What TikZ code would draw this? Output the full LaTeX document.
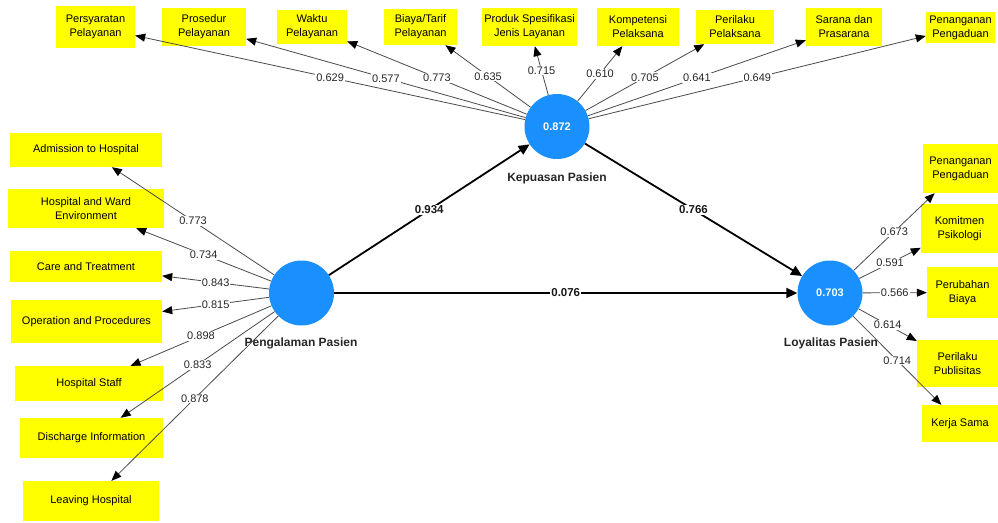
\documentclass[tikz,border=0pt]{standalone}
\usepackage{fontspec}
\setmainfont{Liberation Sans}
\usetikzlibrary{arrows.meta}
\definecolor{lvblue}{HTML}{1A90FF}
\definecolor{edgegray}{HTML}{4A4A4A}
\definecolor{boxyellow}{HTML}{FFFF00}
\begin{document}
\begin{tikzpicture}[x=1pt,y=-1pt,
  ind/.style={fill=boxyellow, inner sep=0pt, align=center, text=black,
    font=\fontsize{11}{14}\selectfont},
  lv/.style={circle, fill=lvblue, minimum size=65pt, inner sep=0pt, text=white,
    font=\bfseries\fontsize{11}{13}\selectfont},
  lvname/.style={font=\bfseries\fontsize{12}{14}\selectfont, text=black!85},
  ld/.style={draw=edgegray, line width=0.8pt,
    -{Triangle[length=10pt,width=8pt,color=black]}},
  ldlab/.style={fill=white, inner sep=1pt, text=black!85,
    font=\fontsize{11}{13}\selectfont},
  sp/.style={draw=black, line width=1.8pt,
    -{Triangle[length=11pt,width=10pt]}},
  splab/.style={fill=white, inner sep=1pt, text=black!90,
    font=\bfseries\fontsize{11.5}{13}\selectfont}
]
\useasboundingbox (0,0) rectangle (998,522);

% latent variables
\node[lv] (K) at (557,126.5) {0.872};
\node[lv] (P) at (301.5,293) {};
\node[lv] (L) at (830,293) {0.703};
\node[lvname] (Kn) at (557,178) {Kepuasan Pasien};
\node[lvname] (Pn) at (301,343) {Pengalaman Pasien};
\node[lvname] (Ln) at (831,343) {Loyalitas Pasien};

% top indicators
\node[ind, minimum width=79pt, minimum height=42pt] (t1) at (95.5,27) {Persyaratan\\Pelayanan};
\node[ind, minimum width=84pt, minimum height=38pt] (t2) at (204,27) {Prosedur\\Pelayanan};
\node[ind, minimum width=70pt, minimum height=34pt] (t3) at (312,27) {Waktu\\Pelayanan};
\node[ind, minimum width=73pt, minimum height=36pt] (t4) at (420.5,27) {Biaya/Tarif\\Pelayanan};
\node[ind, minimum width=95pt, minimum height=38pt] (t5) at (529.5,27) {Produk Spesifikasi\\Jenis Layanan};
\node[ind, minimum width=82pt, minimum height=38pt] (t6) at (638,27) {Kompetensi\\Pelaksana};
\node[ind, minimum width=78pt, minimum height=34pt] (t7) at (735,27) {Perilaku\\Pelaksana};
\node[ind, minimum width=76pt, minimum height=38pt] (t8) at (844,27) {Sarana dan\\Prasarana};
\node[ind, minimum width=69pt, minimum height=31pt] (t9) at (960.5,27.5) {Penanganan\\Pengaduan};

% left indicators
\node[ind, minimum width=152pt, minimum height=34pt] (l1) at (86,150) {Admission to Hospital};
\node[ind, minimum width=156pt, minimum height=39pt] (l2) at (86,208.5) {Hospital and Ward\\Environment};
\node[ind, minimum width=152pt, minimum height=31pt] (l3) at (86,266.5) {Care and Treatment};
\node[ind, minimum width=151pt, minimum height=43pt] (l4) at (86.5,321.5) {Operation and Procedures};
\node[ind, minimum width=148pt, minimum height=35pt] (l5) at (89,383.5) {Hospital Staff};
\node[ind, minimum width=143pt, minimum height=40pt] (l6) at (91.5,438) {Discharge Information};
\node[ind, minimum width=136pt, minimum height=40pt] (l7) at (91,501) {Leaving Hospital};

% right indicators
\node[ind, minimum width=75pt, minimum height=49pt] (r1) at (960.5,168.5) {Penanganan\\Pengaduan};
\node[ind, minimum width=77pt, minimum height=49pt] (r2) at (959.5,228.5) {Komitmen\\Psikologi};
\node[ind, minimum width=71pt, minimum height=51pt] (r3) at (962.5,292.5) {Perubahan\\Biaya};
\node[ind, minimum width=81pt, minimum height=47pt] (r4) at (957.5,363.5) {Perilaku\\Publisitas};
\node[ind, minimum width=76pt, minimum height=37pt] (r5) at (960,423.5) {Kerja Sama};

% top loadings
\draw[ld] (K) -- node[ldlab] {0.629} (t1);
\draw[ld] (K) -- node[ldlab] {0.577} (t2);
\draw[ld] (K) -- node[ldlab] {0.773} (t3);
\draw[ld] (K) -- node[ldlab] {0.635} (t4);
\draw[ld] (K) -- node[ldlab] {0.715} (t5);
\draw[ld] (K) -- node[ldlab] {0.610} (t6);
\draw[ld] (K) -- node[ldlab] {0.705} (t7);
\draw[ld] (K) -- node[ldlab] {0.641} (t8);
\draw[ld] (K) -- node[ldlab] {0.649} (t9);

% left loadings
\draw[ld] (P) -- node[ldlab] {0.773} (l1);
\draw[ld] (P) -- node[ldlab] {0.734} (l2);
\draw[ld] (P) -- node[ldlab] {0.843} (l3);
\draw[ld] (P) -- node[ldlab] {0.815} (l4);
\draw[ld] (P) -- node[ldlab] {0.898} (l5);
\draw[ld] (P) -- node[ldlab] {0.833} (l6);
\draw[ld] (P) -- node[ldlab] {0.878} (l7);

% right loadings
\draw[ld] (L) -- node[ldlab] {0.673} (r1);
\draw[ld] (L) -- node[ldlab] {0.591} (r2);
\draw[ld] (L) -- node[ldlab] {0.566} (r3);
\draw[ld] (L) -- node[ldlab] {0.614} (r4);
\draw[ld] (L) -- node[ldlab] {0.714} (r5);

% structural paths
\draw[sp] (P) -- node[splab] {0.934} (K);
\draw[sp] (K) -- node[splab] {0.766} (L);
\draw[sp] (P) -- node[splab] {0.076} (L);
\end{tikzpicture}
\end{document}
